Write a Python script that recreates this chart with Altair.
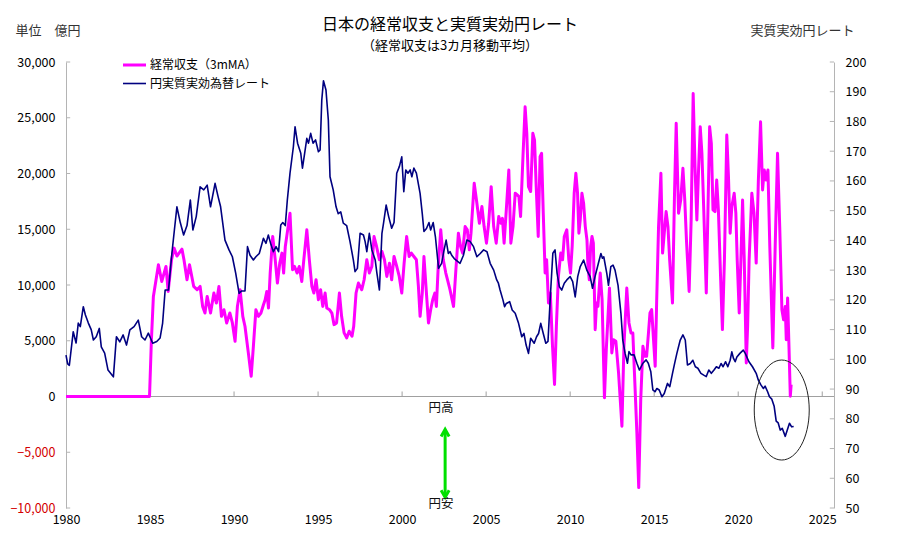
import altair as alt
import pandas as pd

FONT = "Noto Sans CJK JP"

SERIES = ["経常収支（3mMA）", "円実質実効為替レート"]
COLORS = ["#ff00ff", "#000080"]
WIDTHS = [3, 1.6]

X_DOMAIN = [1980, 2025.7]
LEFT_DOMAIN = [-10000, 30000]
RIGHT_DOMAIN = [50, 200]
x_ticks = [1980, 1985, 1990, 1995, 2000, 2005, 2010, 2015, 2020, 2025]
left_ticks = [-10000, -5000, 0, 5000, 10000, 15000, 20000, 25000, 30000]
right_ticks = [50, 60, 70, 80, 90, 100, 110, 120, 130, 140, 150, 160, 170, 180, 190, 200]

# 経常収支（3カ月移動平均, 億円）
ca_year = [
    1980.0, 1984.97, 1985.08, 1985.2, 1985.5, 1985.7, 1985.95, 1986.08, 1986.28, 1986.43,
    1986.6, 1986.9, 1987.02, 1987.2, 1987.35, 1987.6, 1987.8, 1987.98, 1988.13, 1988.27,
    1988.4, 1988.6, 1988.8, 1988.95, 1989.1, 1989.25, 1989.4, 1989.56, 1989.75, 1989.9,
    1990.06, 1990.2, 1990.36, 1990.52, 1990.65, 1990.85, 1991.02, 1991.15, 1991.3, 1991.45,
    1991.6, 1991.75, 1991.85, 1991.95, 1992.05, 1992.15, 1992.3, 1992.45, 1992.58, 1992.72,
    1992.85, 1992.95, 1993.05, 1993.19, 1993.33, 1993.48, 1993.6, 1993.75, 1993.88, 1994.03,
    1994.15, 1994.33, 1994.48, 1994.63, 1994.75, 1994.88, 1995.02, 1995.15, 1995.28, 1995.42,
    1995.52, 1995.68, 1995.82, 1995.95, 1996.1, 1996.27, 1996.4, 1996.55, 1996.7, 1996.85,
    1997.02, 1997.12, 1997.26, 1997.4, 1997.6, 1997.74, 1997.9, 1998.05, 1998.2, 1998.33,
    1998.48, 1998.65, 1998.8, 1998.95, 1999.09, 1999.25, 1999.38, 1999.52, 1999.68, 1999.83,
    1999.98, 2000.12, 2000.27, 2000.42, 2000.55, 2000.7, 2000.85, 2000.97, 2001.07, 2001.2,
    2001.3, 2001.42, 2001.57, 2001.7, 2001.82, 2001.95, 2002.04, 2002.15, 2002.3, 2002.45,
    2002.6, 2002.7, 2002.85, 2003.06, 2003.2, 2003.35, 2003.48, 2003.6, 2003.75, 2003.88,
    2004.0, 2004.1, 2004.29, 2004.45, 2004.6, 2004.75, 2004.88, 2005.02, 2005.15, 2005.3,
    2005.45, 2005.6, 2005.75, 2005.88, 2005.97, 2006.07, 2006.2, 2006.35, 2006.47, 2006.6,
    2006.73, 2006.85, 2006.95, 2007.05, 2007.2, 2007.32, 2007.42, 2007.52, 2007.65, 2007.78,
    2007.88, 2007.98, 2008.1, 2008.21, 2008.3, 2008.4, 2008.51, 2008.6, 2008.71, 2008.82,
    2008.95, 2009.07, 2009.18, 2009.3, 2009.44, 2009.55, 2009.65, 2009.8, 2009.92, 2010.02,
    2010.12, 2010.24, 2010.34, 2010.44, 2010.52, 2010.6, 2010.7, 2010.8, 2010.9, 2011.0,
    2011.06, 2011.14, 2011.22, 2011.3, 2011.38, 2011.49, 2011.57, 2011.65, 2011.79, 2011.9,
    2012.04, 2012.15, 2012.34, 2012.48, 2012.58, 2012.72, 2012.88, 2013.08, 2013.2, 2013.37,
    2013.5, 2013.62, 2013.73, 2013.85, 2013.97, 2014.08, 2014.2, 2014.33, 2014.45, 2014.55,
    2014.66, 2014.75, 2014.85, 2015.06, 2015.15, 2015.26, 2015.4, 2015.5, 2015.6, 2015.71,
    2015.82, 2015.92, 2016.09, 2016.21, 2016.31, 2016.45, 2016.58, 2016.71, 2016.82, 2016.92,
    2017.08, 2017.2, 2017.32, 2017.43, 2017.54, 2017.64, 2017.74, 2017.84, 2017.95, 2018.1,
    2018.2, 2018.3, 2018.4, 2018.5, 2018.62, 2018.72, 2018.82, 2018.95, 2019.06, 2019.18,
    2019.32, 2019.42, 2019.52, 2019.62, 2019.76, 2019.86, 2019.94, 2020.06, 2020.16, 2020.26,
    2020.36, 2020.48, 2020.56, 2020.65, 2020.81, 2020.94, 2021.07, 2021.2, 2021.33, 2021.45,
    2021.55, 2021.66, 2021.77, 2021.88, 2022.06, 2022.2, 2022.34, 2022.47, 2022.6, 2022.7,
    2022.8, 2022.86, 2022.94, 2023.02, 2023.1, 2023.15,
]
ca_value = [
    0, 0, 5000, 8977, 11814, 10320, 11663, 9424, 12262, 13308,
    12600, 13219, 12262, 10472, 11814, 9872, 9574, 9872, 8082, 7490,
    8977, 7490, 9281, 8380, 9872, 7187, 7780, 6596, 7490, 6596,
    4950, 8082, 9577, 7187, 6300, 3911, 1817, 4500, 7786, 7190,
    7487, 8234, 8680, 9425, 7934, 11071, 14347, 12260, 10175, 11960,
    12860, 11071, 13456, 14947, 16438, 11367, 11665, 11071, 11665, 10320,
    12260, 14947, 12260, 9872, 9276, 10472, 8681, 9574, 8082, 9276,
    7936, 7786, 7487, 6444, 6600, 9281, 7190, 5700, 5253, 5850,
    5400, 6300, 9281, 10175, 9574, 10472, 12262, 11071, 11665, 14347,
    13456, 12262, 13010, 12262, 10770, 11960, 10472, 12557, 11665, 10770,
    9281, 11960, 14347, 12557, 12860, 12557, 12262, 9872, 7187, 9276,
    12557, 9872, 6596, 7786, 8680, 9276, 8082, 11665, 14947, 12262,
    11071, 10472, 9574, 8082, 11367, 14648, 13456, 12860, 15240, 14947,
    13159, 14648, 19126, 17335, 15537, 17032, 15240, 13754, 15537, 18822,
    15240, 13754, 16138, 15537, 15980, 13754, 16736, 20316, 13754, 15240,
    18230, 18080, 17930, 16138, 21811, 25982, 23600, 18822, 18380, 23602,
    23000, 18822, 14347, 21507, 21811, 16437, 11071, 12262, 8383, 9276,
    4502, 1074, 6300, 10770, 12860, 12262, 14347, 14947, 12262, 11071,
    13456, 18230, 20018, 18230, 14648, 15837, 18230, 17335, 15240, 14050,
    11665, 10472, 13456, 14347, 13754, 5996, 8383, 8082, 11071, 8680,
    -120, 4200, 9728, 3911, 5100, 4950, 2120, -2660, 4500, 9728,
    6596, 5700, 5700, 1226, -3250, -8170, -270, 4500, 3600, 3600,
    5700, 7490, 7786, 2710, 8680, 15240, 20018, 12860, 14647, 16585,
    15240, 12262, 8383, 18230, 24500, 16438, 17630, 20470, 17630, 14050,
    9425, 15837, 27180, 20615, 15837, 20316, 24190, 21800, 16736, 9281,
    16736, 24190, 22700, 16736, 16585, 19420, 16736, 10770, 6000, 12262,
    23450, 19720, 14648, 17035, 18230, 16437, 12262, 7490, 12262, 17630,
    12262, 3010, 6300, 12262, 18230, 16437, 11964, 19420, 24640, 18530,
    20316, 19420, 20316, 13450, 4360, 13450, 21811, 15240, 7786, 6890,
    8082, 5100, 8830, 4500, 30, 1074,
]

# 円実質実効為替レート
reer_year = [
    1980.0, 1980.1, 1980.2, 1980.43, 1980.6, 1980.73, 1980.85, 1981.03, 1981.15, 1981.33,
    1981.5, 1981.63, 1981.8, 1981.98, 1982.1, 1982.3, 1982.5, 1982.7, 1982.82, 1983.0,
    1983.2, 1983.4, 1983.6, 1983.8, 1984.05, 1984.3, 1984.5, 1984.7, 1984.9, 1985.16,
    1985.4, 1985.6, 1985.75, 1985.9, 1986.1, 1986.3, 1986.45, 1986.6, 1986.8, 1987.0,
    1987.2, 1987.4, 1987.55, 1987.75, 1987.98, 1988.2, 1988.4, 1988.6, 1988.87, 1989.05,
    1989.2, 1989.46, 1989.7, 1989.9, 1990.1, 1990.3, 1990.45, 1990.65, 1990.8, 1990.95,
    1991.15, 1991.3, 1991.5, 1991.75, 1991.9, 1992.04, 1992.2, 1992.34, 1992.5, 1992.65,
    1992.78, 1992.9, 1993.05, 1993.17, 1993.33, 1993.53, 1993.63, 1993.78, 1993.97, 1994.07,
    1994.2, 1994.33, 1994.43, 1994.56, 1994.7, 1994.85, 1995.02, 1995.12, 1995.22, 1995.32,
    1995.47, 1995.61, 1995.71, 1995.9, 1996.07, 1996.2, 1996.35, 1996.5, 1996.7, 1996.9,
    1997.1, 1997.2, 1997.34, 1997.5, 1997.7, 1997.8, 1997.9, 1998.05, 1998.2, 1998.4,
    1998.5, 1998.65, 1998.8, 1998.9, 1999.05, 1999.2, 1999.38, 1999.52, 1999.68, 1999.84,
    1999.98, 2000.1, 2000.22, 2000.35, 2000.48, 2000.58, 2000.7, 2000.85, 2001.07, 2001.2,
    2001.3, 2001.45, 2001.6, 2001.7, 2001.85, 2001.98, 2002.17, 2002.35, 2002.5, 2002.62,
    2002.75, 2002.85, 2002.95, 2003.1, 2003.45, 2003.65, 2003.85, 2004.05, 2004.25, 2004.45,
    2004.65, 2004.85, 2005.05, 2005.24, 2005.45, 2005.63, 2005.73, 2005.83, 2006.0, 2006.1,
    2006.2, 2006.4, 2006.55, 2006.73, 2006.93, 2007.12, 2007.25, 2007.38, 2007.52, 2007.65,
    2007.86, 2008.0, 2008.12, 2008.25, 2008.4, 2008.55, 2008.68, 2008.81, 2008.97, 2009.1,
    2009.22, 2009.36, 2009.5, 2009.65, 2009.8, 2010.0, 2010.15, 2010.3, 2010.45, 2010.6,
    2010.8, 2010.99, 2011.19, 2011.33, 2011.48, 2011.68, 2011.83, 2011.92, 2012.0, 2012.18,
    2012.28, 2012.42, 2012.55, 2012.67, 2012.85, 2013.02, 2013.13, 2013.27, 2013.41, 2013.5,
    2013.62, 2013.8, 2013.97, 2014.12, 2014.33, 2014.52, 2014.65, 2014.8, 2014.92, 2015.05,
    2015.16, 2015.3, 2015.46, 2015.6, 2015.79, 2015.93, 2016.09, 2016.22, 2016.35, 2016.55,
    2016.71, 2016.85, 2016.98, 2017.15, 2017.3, 2017.45, 2017.6, 2017.78, 2017.95, 2018.1,
    2018.25, 2018.4, 2018.56, 2018.7, 2018.85, 2018.98, 2019.1, 2019.25, 2019.38, 2019.52,
    2019.62, 2019.72, 2019.82, 2019.92, 2020.1, 2020.3, 2020.42, 2020.55, 2020.64, 2020.85,
    2021.07, 2021.2, 2021.35, 2021.5, 2021.6, 2021.75, 2021.86, 2022.0, 2022.14, 2022.26,
    2022.38, 2022.5, 2022.62, 2022.8, 2022.92, 2023.05, 2023.18, 2023.3,
]
reer_value = [
    101.4, 98.5, 98.0, 109.3, 105.5, 112.2, 111.0, 117.7, 115.0, 112.2,
    110.0, 106.5, 107.6, 110.4, 104.2, 102.1, 96.4, 95.0, 94.1, 107.6,
    105.9, 108.2, 104.8, 109.9, 111.0, 113.2, 107.6, 106.5, 108.8, 105.4,
    106.0, 107.2, 112.2, 123.3, 123.3, 135.6, 143.5, 151.3, 146.0, 141.8,
    145.0, 153.6, 143.5, 148.0, 158.0, 157.0, 158.6, 151.3, 159.2, 154.7,
    151.3, 140.1, 136.8, 134.5, 128.9, 122.2, 123.0, 123.0, 137.9, 135.0,
    133.4, 134.5, 135.6, 140.7, 139.0, 141.8, 138.5, 136.2, 137.9, 136.2,
    145.2, 146.0, 145.0, 153.6, 162.6, 171.5, 178.2, 172.7, 169.3, 164.3,
    169.3, 174.3, 172.7, 176.0, 172.7, 173.8, 169.8, 170.4, 187.2, 193.7,
    190.6, 180.5, 161.4, 157.0, 151.3, 149.0, 149.6, 145.8, 145.0, 139.6,
    133.4, 129.5, 130.6, 142.4, 141.8, 139.6, 136.2, 142.4, 136.8, 133.4,
    129.0, 123.3, 142.4, 146.0, 151.9, 148.0, 144.1, 146.0, 162.6, 164.9,
    168.1, 156.4, 163.7, 162.6, 163.7, 161.4, 164.3, 162.6, 155.8, 149.0,
    143.0, 144.0, 146.0, 143.5, 146.0, 141.3, 130.6, 132.3, 136.8, 140.1,
    135.6, 136.2, 135.0, 133.9, 132.3, 135.0, 140.1, 139.6, 137.9, 134.5,
    135.6, 136.8, 136.2, 132.3, 130.0, 126.7, 125.6, 123.3, 120.0, 117.7,
    118.8, 119.4, 116.6, 115.5, 112.1, 107.6, 108.7, 104.8, 102.0, 107.1,
    105.4, 107.6, 108.7, 112.1, 108.7, 105.4, 106.0, 120.0, 135.7, 136.8,
    129.0, 124.4, 123.3, 125.6, 126.7, 127.8, 126.1, 121.0, 127.8, 131.2,
    133.4, 130.0, 127.8, 123.9, 127.8, 132.3, 135.6, 134.0, 134.5, 128.9,
    124.9, 131.2, 131.7, 130.0, 124.9, 115.5, 106.5, 102.0, 98.7, 102.6,
    101.5, 101.5, 98.7, 96.4, 98.7, 99.8, 98.7, 95.8, 89.7, 89.1,
    90.2, 89.7, 87.4, 88.5, 91.9, 90.8, 95.3, 98.7, 102.0, 106.5,
    108.2, 106.5, 98.1, 98.6, 99.7, 97.5, 97.0, 95.3, 94.7, 94.2,
    96.4, 95.3, 96.4, 97.5, 97.0, 98.6, 97.5, 99.2, 97.5, 99.7,
    102.5, 100.3, 99.2, 100.8, 102.0, 103.1, 102.0, 100.3, 99.2, 97.5,
    95.3, 93.0, 91.4, 90.2, 91.0, 89.1, 87.4, 86.6, 84.2, 79.2,
    78.6, 76.2, 76.8, 74.1, 76.2, 78.5, 77.3, 77.4,
]

# 注記（円高／円安の矢印と楕円）
ellipse_x = [2022.59]
ellipse_y = [82.95]
arrow_x = [2002.56]
arrow_top = [-3000]
arrow_bottom = [-8990]
arrow_tip_top = [-2950]
arrow_tip_bottom = [-9040]
note_text = ["円高", "円安"]
note_x = [2002.32, 2002.32]
note_y = [-1074, -9666]

x_scale = alt.Scale(domain=X_DOMAIN, nice=False, zero=False)
yl_scale = alt.Scale(domain=LEFT_DOMAIN, nice=False, zero=False)
yr_scale = alt.Scale(domain=RIGHT_DOMAIN, nice=False, zero=False)
AXIS_GRAY = "#b4b4b4"

x_axis = alt.Axis(
    values=x_ticks, format="d", domain=False, ticks=False, grid=False,
    labelFontSize=12.5, labelPadding=5, labelFlush=False, labelColor="#000", title=None,
)


def xenc(field):
    return alt.X(field, scale=x_scale, axis=x_axis)


legend = alt.Legend(
    title=None, orient="none", legendX=55.5, legendY=-10, direction="vertical",
    labelFontSize=12, labelFont=FONT, labelColor="#000", symbolType="stroke",
    symbolSize=529, labelOffset=2.5, rowPadding=0, padding=0,
)
color = alt.Color("series:N", scale=alt.Scale(domain=SERIES, range=COLORS), legend=legend)
stroke_w = alt.StrokeWidth("series:N", scale=alt.Scale(domain=SERIES, range=WIDTHS), legend=legend)

# zero line with year ticks
zero_df = pd.DataFrame({"x": [X_DOMAIN[0]], "x2": [X_DOMAIN[1]], "y": [0]})
zero_line = alt.Chart(zero_df).mark_rule(color="#a0a0a0", strokeWidth=1).encode(
    x=xenc("x:Q"), x2="x2:Q",
    y=alt.Y("y:Q", scale=yl_scale, axis=None),
)
xt_df = pd.DataFrame({"x": x_ticks[1:], "y": [0] * (len(x_ticks) - 1), "y2": [450] * (len(x_ticks) - 1)})
x_tick_marks = alt.Chart(xt_df).mark_rule(color="#a0a0a0", strokeWidth=1).encode(
    x=xenc("x:Q"),
    y=alt.Y("y:Q", scale=yl_scale, axis=None), y2="y2:Q",
)
lt_df = pd.DataFrame({"y": left_ticks, "x": [X_DOMAIN[0]] * len(left_ticks), "x2": [X_DOMAIN[0] + 0.25] * len(left_ticks)})
left_tick_marks = alt.Chart(lt_df).mark_rule(color=AXIS_GRAY, strokeWidth=1).encode(
    x=xenc("x:Q"), x2="x2:Q",
    y=alt.Y("y:Q", scale=yl_scale, axis=None),
)
rt_df = pd.DataFrame({"y": right_ticks, "x": [X_DOMAIN[1] - 0.25] * len(right_ticks), "x2": [X_DOMAIN[1]] * len(right_ticks)})
right_tick_marks = alt.Chart(rt_df).mark_rule(color=AXIS_GRAY, strokeWidth=1).encode(
    x=xenc("x:Q"), x2="x2:Q",
    y=alt.Y("y:Q", scale=yr_scale, axis=None),
)

ca_df = pd.DataFrame({"x": ca_year, "value": ca_value, "series": [SERIES[0]] * len(ca_year)})
ca_line = alt.Chart(ca_df).mark_line(strokeJoin="round").encode(
    x=xenc("x:Q"),
    y=alt.Y("value:Q", scale=yl_scale, axis=alt.Axis(
        orient="left", values=left_ticks, format=",.0f", grid=False, ticks=False,
        domainColor=AXIS_GRAY, labelFontSize=12.5, labelPadding=11,
        labelColor={"condition": {"test": "datum.value < 0", "value": "#d40000"}, "value": "#000"},
        title="単位　億円", titleAngle=0, titleAlign="left", titleBaseline="middle",
        titleX=-51, titleY=-32, titleFontSize=13, titleFontWeight="normal", titleColor="#333")),
    color=color, strokeWidth=stroke_w,
)

reer_df = pd.DataFrame({"x": reer_year, "value": reer_value, "series": [SERIES[1]] * len(reer_year)})
reer_line = alt.Chart(reer_df).mark_line(strokeJoin="round").encode(
    x=xenc("x:Q"),
    y=alt.Y("value:Q", scale=yr_scale, axis=alt.Axis(
        orient="right", values=right_ticks, format=".0f", grid=False, ticks=False,
        domainColor=AXIS_GRAY, labelFontSize=12.5, labelPadding=11, labelColor="#000",
        title="実質実効円レート", titleAngle=0, titleAlign="left", titleBaseline="middle",
        titleX=-84, titleY=-32, titleFontSize=13, titleFontWeight="normal", titleColor="#333")),
    color=color, strokeWidth=stroke_w,
)

ELLIPSE = ("M0,-1C0.3038,-1 0.55,-0.5523 0.55,0C0.55,0.5523 0.3038,1 0,1"
           "C-0.3038,1 -0.55,0.5523 -0.55,0C-0.55,-0.5523 -0.3038,-1 0,-1Z")
ell_df = pd.DataFrame({"x": ellipse_x, "y": ellipse_y})
ellipse = alt.Chart(ell_df).mark_point(shape=ELLIPSE, size=10000, filled=False, stroke="#222", strokeWidth=1, opacity=1).encode(
    x=xenc("x:Q"),
    y=alt.Y("y:Q", scale=yr_scale, axis=None),
)

GREEN = "#00e000"
arr_df = pd.DataFrame({"x": arrow_x, "y": arrow_top, "y2": arrow_bottom})
arrow_shaft = alt.Chart(arr_df).mark_rule(color=GREEN, strokeWidth=3).encode(
    x=xenc("x:Q"),
    y=alt.Y("y:Q", scale=yl_scale, axis=None), y2="y2:Q",
)
up_df = pd.DataFrame({"x": arrow_x, "y": arrow_tip_top})
arrow_up = alt.Chart(up_df).mark_point(shape="M-0.8,1.4L0,0L0.8,1.4", size=100, filled=False, stroke=GREEN, strokeWidth=3, opacity=1).encode(
    x=xenc("x:Q"),
    y=alt.Y("y:Q", scale=yl_scale, axis=None),
)
dn_df = pd.DataFrame({"x": arrow_x, "y": arrow_tip_bottom})
arrow_dn = alt.Chart(dn_df).mark_point(shape="M-0.8,-1.4L0,0L0.8,-1.4", size=100, filled=False, stroke=GREEN, strokeWidth=3, opacity=1).encode(
    x=xenc("x:Q"),
    y=alt.Y("y:Q", scale=yl_scale, axis=None),
)
note_df = pd.DataFrame({"x": note_x, "y": note_y, "t": note_text})
notes = alt.Chart(note_df).mark_text(fontSize=12.5, font=FONT, color="#111", align="center", baseline="middle").encode(
    x=xenc("x:Q"),
    y=alt.Y("y:Q", scale=yl_scale, axis=None),
    text="t:N",
)

chart = alt.layer(
    zero_line, x_tick_marks, left_tick_marks, right_tick_marks,
    ca_line, reer_line, ellipse, arrow_shaft, arrow_up, arrow_dn, notes,
).resolve_scale(y="independent").properties(
    width=768, height=446,
    autosize=alt.AutoSizeParams(type="none"),
    padding={"left": 58, "top": 54, "right": 58, "bottom": 33},
    background="white",
    title=alt.TitleParams(
        text="日本の経常収支と実質実効円レート",
        subtitle="（経常収支は3カ月移動平均）",
        anchor="middle", frame="group", fontSize=16, subtitleFontSize=13,
        fontWeight="normal", color="#000", subtitleColor="#000",
        font=FONT, subtitleFont=FONT, subtitlePadding=7, offset=-29,
    ),
).configure(font=FONT).configure_view(stroke=None).configure_axis(
    labelFont=FONT, titleFont=FONT,
)

chart.save("out.html", embed_options={"renderer": "svg", "actions": False})
